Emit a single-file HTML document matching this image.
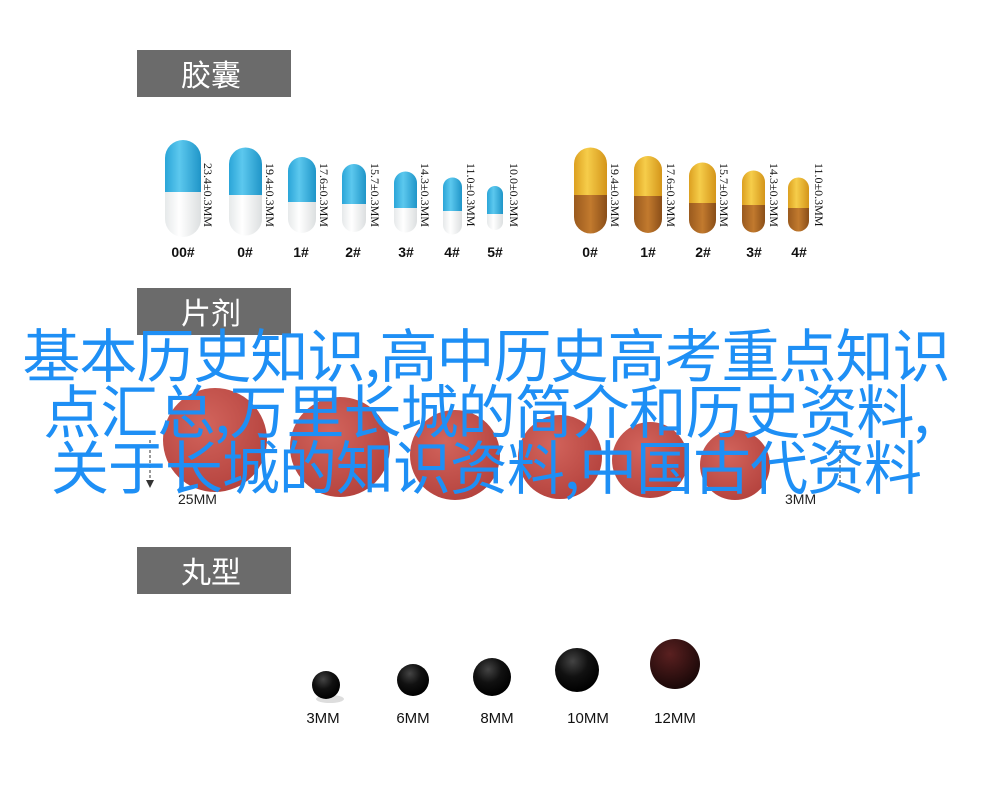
<!DOCTYPE html>
<html><head><meta charset="utf-8"><style>
html,body{margin:0;padding:0;background:#fff;}
body{width:1000px;height:803px;position:relative;overflow:hidden;font-family:"Liberation Sans","Noto Sans CJK SC",sans-serif;}
.hd{position:absolute;left:137px;width:154px;height:47px;background:#6b6b6b;color:#fff;font-size:30px;line-height:47px;text-indent:44px;font-family:"Noto Sans CJK SC",sans-serif;}
.title{position:absolute;left:0;top:324px;width:972px;text-align:center;color:#1e8ff5;font-size:58px;line-height:56px;font-family:"Noto Sans CJK SC",sans-serif;letter-spacing:-1px;white-space:nowrap;}
</style></head><body>
<svg width="1000" height="803" style="position:absolute;left:0;top:0">
<defs>
<linearGradient id="bl" x1="0" x2="1"><stop offset="0" stop-color="#2aa5d8"/><stop offset=".4" stop-color="#5cc8ee"/><stop offset="1" stop-color="#1f95c8"/></linearGradient>
<linearGradient id="wh" x1="0" x2="1"><stop offset="0" stop-color="#e6e9ea"/><stop offset=".4" stop-color="#fff"/><stop offset="1" stop-color="#dcdfe0"/></linearGradient>
<linearGradient id="ye" x1="0" x2="1"><stop offset="0" stop-color="#dca020"/><stop offset=".4" stop-color="#f6cd4a"/><stop offset="1" stop-color="#d4951a"/></linearGradient>
<linearGradient id="br" x1="0" x2="1"><stop offset="0" stop-color="#9a5a1e"/><stop offset=".5" stop-color="#c27a2e"/><stop offset="1" stop-color="#8a4e18"/></linearGradient>
<radialGradient id="tb" cx=".4" cy=".35" r=".7"><stop offset="0" stop-color="#d2645c"/><stop offset="1" stop-color="#b4423d"/></radialGradient>
<radialGradient id="bk" cx=".4" cy=".3" r=".7"><stop offset="0" stop-color="#444"/><stop offset=".5" stop-color="#111"/><stop offset="1" stop-color="#000"/></radialGradient>
<radialGradient id="rd" cx=".4" cy=".3" r=".7"><stop offset="0" stop-color="#5a2020"/><stop offset="1" stop-color="#1a0808"/></radialGradient>
</defs>
<g font-family="Liberation Serif" font-size="12" fill="#111">
<g>
<path d="M165,158 a18,18 0 0 1 36,0 V192 H165Z" fill="url(#bl)"/><path d="M165,192 H201 V219 a18,18 0 0 1 -36,0Z" fill="url(#wh)"/>
<path d="M229,164 a16.5,16.5 0 0 1 33,0 V195 H229Z" fill="url(#bl)"/><path d="M229,195 H262 V219 a16.5,16.5 0 0 1 -33,0Z" fill="url(#wh)"/>
<path d="M288,171 a14,14 0 0 1 28,0 V202 H288Z" fill="url(#bl)"/><path d="M288,202 H316 V219 a14,14 0 0 1 -28,0Z" fill="url(#wh)"/>
<path d="M342,176 a12,12 0 0 1 24,0 V204 H342Z" fill="url(#bl)"/><path d="M342,204 H366 V220 a12,12 0 0 1 -24,0Z" fill="url(#wh)"/>
<path d="M394,183 a11.5,11.5 0 0 1 23,0 V208 H394Z" fill="url(#bl)"/><path d="M394,208 H417 V221 a11.5,11.5 0 0 1 -23,0Z" fill="url(#wh)"/>
<path d="M443,187 a9.5,9.5 0 0 1 19,0 V211 H443Z" fill="url(#bl)"/><path d="M443,211 H462 V225 a9.5,9.5 0 0 1 -19,0Z" fill="url(#wh)"/>
<path d="M487,194 a8,8 0 0 1 16,0 V214 H487Z" fill="url(#bl)"/><path d="M487,214 H503 V222 a8,8 0 0 1 -16,0Z" fill="url(#wh)"/>
</g>
<g>
<path d="M574,164 a16.5,16.5 0 0 1 33,0 V195 H574Z" fill="url(#ye)"/><path d="M574,195 H607 V217 a16.5,16.5 0 0 1 -33,0Z" fill="url(#br)"/>
<path d="M634,170 a14,14 0 0 1 28,0 V196 H634Z" fill="url(#ye)"/><path d="M634,196 H662 V219 a14,14 0 0 1 -28,0Z" fill="url(#br)"/>
<path d="M689,176 a13.5,13.5 0 0 1 27,0 V203 H689Z" fill="url(#ye)"/><path d="M689,203 H716 V220 a13.5,13.5 0 0 1 -27,0Z" fill="url(#br)"/>
<path d="M742,182 a11.5,11.5 0 0 1 23,0 V205 H742Z" fill="url(#ye)"/><path d="M742,205 H765 V221 a11.5,11.5 0 0 1 -23,0Z" fill="url(#br)"/>
<path d="M788,188 a10.5,10.5 0 0 1 21,0 V208 H788Z" fill="url(#ye)"/><path d="M788,208 H809 V221 a10.5,10.5 0 0 1 -21,0Z" fill="url(#br)"/>
</g>
<g>
<text transform="translate(204,163) rotate(90)">23.4±0.3MM</text>
<text transform="translate(266,163) rotate(90)">19.4±0.3MM</text>
<text transform="translate(320,163) rotate(90)">17.6±0.3MM</text>
<text transform="translate(371,163) rotate(90)">15.7±0.3MM</text>
<text transform="translate(421,163) rotate(90)">14.3±0.3MM</text>
<text transform="translate(467,163) rotate(90)">11.0±0.3MM</text>
<text transform="translate(510,163) rotate(90)">10.0±0.3MM</text>
<text transform="translate(611,163) rotate(90)">19.4±0.3MM</text>
<text transform="translate(667,163) rotate(90)">17.6±0.3MM</text>
<text transform="translate(720,163) rotate(90)">15.7±0.3MM</text>
<text transform="translate(770,163) rotate(90)">14.3±0.3MM</text>
<text transform="translate(815,163) rotate(90)">11.0±0.3MM</text>
</g>
<g font-family="Liberation Sans" font-weight="bold" font-size="14" text-anchor="middle">
<text x="183" y="257">00#</text><text x="245" y="257">0#</text><text x="301" y="257">1#</text><text x="353" y="257">2#</text><text x="406" y="257">3#</text><text x="452" y="257">4#</text><text x="495" y="257">5#</text>
<text x="590" y="257">0#</text><text x="648" y="257">1#</text><text x="703" y="257">2#</text><text x="754" y="257">3#</text><text x="799" y="257">4#</text>
</g>
</g>
<circle cx="215" cy="440" r="52" fill="url(#tb)"/>
<circle cx="340" cy="447" r="50" fill="url(#tb)"/>
<circle cx="455" cy="455" r="45" fill="url(#tb)"/>
<circle cx="560" cy="457" r="42" fill="url(#tb)"/>
<circle cx="650" cy="460" r="38" fill="url(#tb)"/>
<circle cx="735" cy="465" r="35" fill="url(#tb)"/>
<line x1="150" y1="440" x2="150" y2="485" stroke="#333" stroke-dasharray="3,2"/>
<path d="M146,480 L150,488 L154,480Z" fill="#333"/>
<line x1="840" y1="440" x2="840" y2="485" stroke="#333" stroke-dasharray="3,2"/>
<g font-family="Liberation Sans" font-size="14" fill="#222">
<text x="178" y="504">25MM</text><text x="785" y="504">3MM</text>
</g>
<ellipse cx="330" cy="699" rx="14" ry="4" fill="#ddd"/>
<circle cx="326" cy="685" r="14" fill="url(#bk)"/>
<circle cx="413" cy="680" r="16" fill="url(#bk)"/>
<circle cx="492" cy="677" r="19" fill="url(#bk)"/>
<circle cx="577" cy="670" r="22" fill="url(#bk)"/>
<circle cx="675" cy="664" r="25" fill="url(#rd)"/>
<g font-family="Liberation Sans" font-size="15" fill="#111" text-anchor="middle">
<text x="323" y="723">3MM</text><text x="413" y="723">6MM</text><text x="497" y="723">8MM</text><text x="588" y="723">10MM</text><text x="675" y="723">12MM</text>
</g>
</svg>
<div class="hd" style="top:50px">胶囊</div>
<div class="hd" style="top:288px">片剂</div>
<div class="hd" style="top:547px">丸型</div>
<div class="title">基本历史知识,高中历史高考重点知识<br>点汇总,万里长城的简介和历史资料,<br>关于长城的知识资料,中国古代资料</div>
</body></html>
